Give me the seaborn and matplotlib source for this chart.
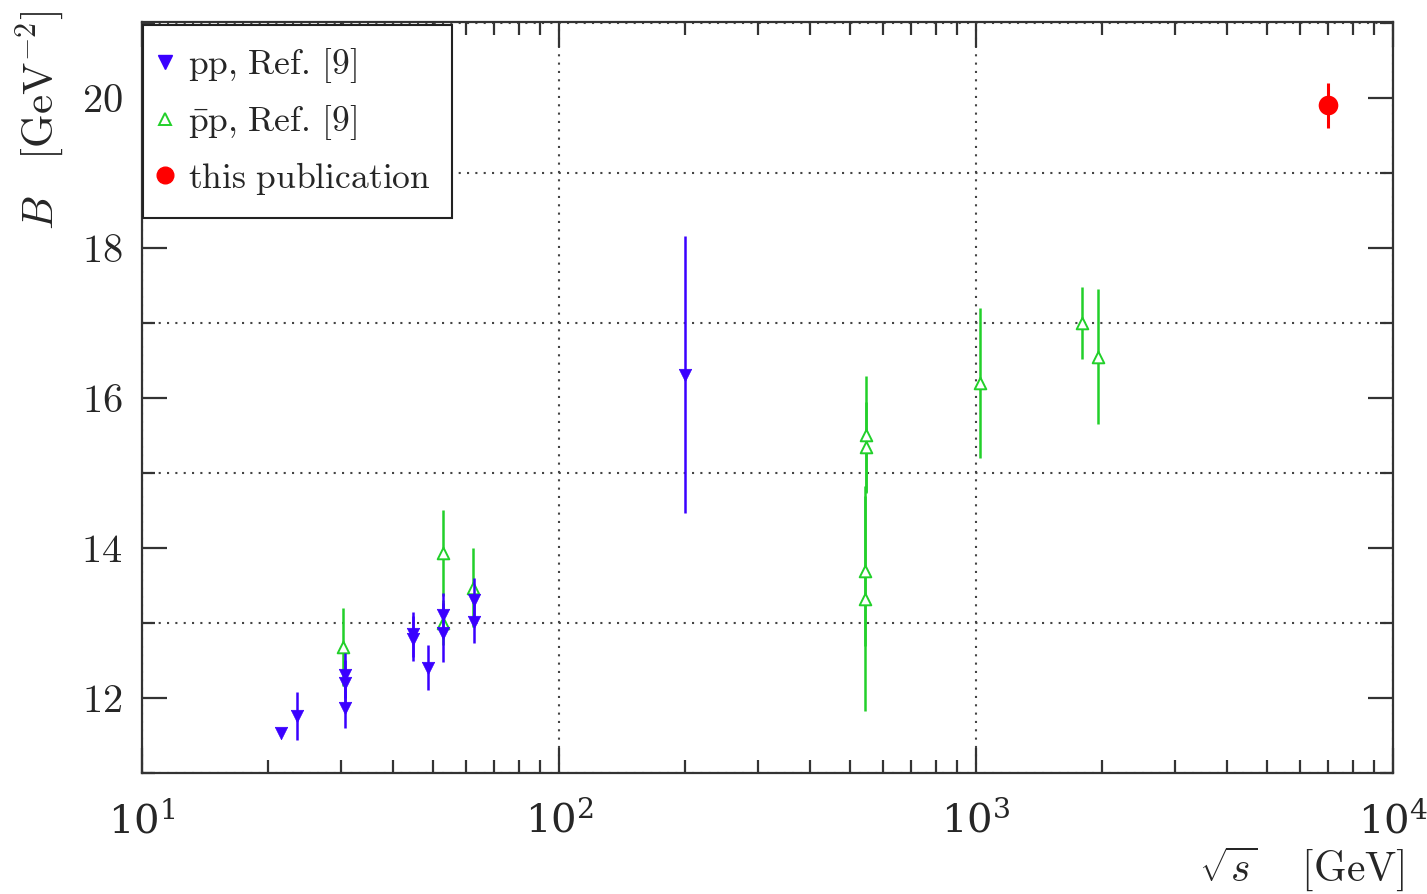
import numpy as np
import pandas as pd
import matplotlib
matplotlib.use("Agg")
import matplotlib.pyplot as plt
from matplotlib.lines import Line2D
from matplotlib.ticker import FixedLocator, FixedFormatter, LogLocator, LogFormatterMathtext, NullFormatter
import seaborn as sns

# pp measurements
pp_sqrt_s = [21.5, 23.5, 30.6, 30.6, 30.6, 44.7, 44.7, 48.4, 52.8, 52.8, 62.5, 62.5, 200.0]
pp_B = [11.53, 11.76, 12.30, 12.20, 11.87, 12.85, 12.79, 12.40, 13.11, 12.87, 13.30, 13.01, 16.31]
pp_err = [0.03, 0.32, 0.30, 0.30, 0.27, 0.30, 0.30, 0.30, 0.29, 0.39, 0.30, 0.28, 1.85]

# pbar-p measurements
ppbar_sqrt_s = [30.4, 52.6, 52.6, 62.3, 546.0, 546.0, 541.0, 541.0, 1020.0, 1800.0, 1960.0]
ppbar_B = [12.68, 13.93, 13.00, 13.47, 15.51, 15.35, 13.69, 13.32, 16.20, 17.00, 16.55]
ppbar_err = [0.52, 0.57, 0.30, 0.53, 0.78, 0.60, 1.00, 1.50, 1.00, 0.48, 0.90]

# new measurement
new_sqrt_s = [7000.0]
new_B = [19.90]
new_err = [0.30]

labels = [r"$\mathrm{pp{,}\ Ref.\,[9]}$",
          r"$\bar{\mathrm{p}}\mathrm{p{,}\ Ref.\,[9]}$",
          r"$\mathrm{this\ publication}$"]
y_major = [12, 14, 16, 18, 20]
y_minor = [11, 13, 15, 17, 19, 21]

c_pp = "#3a00ff"
c_ppbar = "#22d02a"
c_new = "#ff0000"

sns.set_theme(style="ticks")
plt.rcParams["mathtext.fontset"] = "cm"
plt.rcParams["font.family"] = ["DejaVu Serif"]

df_pp = pd.DataFrame({"sqrt_s": pp_sqrt_s, "B": pp_B, "err": pp_err})
df_ppbar = pd.DataFrame({"sqrt_s": ppbar_sqrt_s, "B": ppbar_B, "err": ppbar_err})
df_new = pd.DataFrame({"sqrt_s": new_sqrt_s, "B": new_B, "err": new_err})

fig = plt.figure(figsize=(14.27, 8.94), dpi=100)
ax = fig.add_axes([142 / 1427, 1 - 773 / 894, (1393 - 142) / 1427, (773 - 22) / 894])
ax.set_xscale("log")

# error bars first, then markers on top
ax.errorbar(df_ppbar["sqrt_s"], df_ppbar["B"], yerr=df_ppbar["err"], fmt="none",
            ecolor=c_ppbar, elinewidth=1.8, capsize=0, zorder=2)
sns.scatterplot(data=df_ppbar, x="sqrt_s", y="B", ax=ax, marker="^", s=70,
                facecolor="white", edgecolor=c_ppbar, linewidth=1.4, zorder=3, legend=False)
ax.errorbar(df_pp["sqrt_s"], df_pp["B"], yerr=df_pp["err"], fmt="none",
            ecolor=c_pp, elinewidth=1.8, capsize=0, zorder=4)
sns.scatterplot(data=df_pp, x="sqrt_s", y="B", ax=ax, marker="v", s=80,
                color=c_pp, edgecolor=c_pp, linewidth=0.5, zorder=5, legend=False)
ax.errorbar(df_new["sqrt_s"], df_new["B"], yerr=df_new["err"], fmt="none",
            ecolor=c_new, elinewidth=2.2, capsize=0, zorder=6)
sns.scatterplot(data=df_new, x="sqrt_s", y="B", ax=ax, marker="o", s=200,
                color=c_new, edgecolor=c_new, linewidth=0, zorder=7, legend=False)

ax.set_xlim(10, 1e4)
ax.set_ylim(11, 21.01)

ax.xaxis.set_major_locator(LogLocator(base=10, numticks=10))
ax.xaxis.set_major_formatter(LogFormatterMathtext())
ax.xaxis.set_minor_locator(LogLocator(base=10, subs=np.arange(2, 10), numticks=20))
ax.xaxis.set_minor_formatter(NullFormatter())
ax.yaxis.set_major_locator(FixedLocator(y_major))
ax.yaxis.set_major_formatter(FixedFormatter([rf"${v}$" for v in y_major]))
ax.yaxis.set_minor_locator(FixedLocator(y_minor))

ax.tick_params(which="both", direction="in", top=True, right=True, color="#333333", width=1.6)
ax.tick_params(which="major", length=18, labelsize=29)
ax.tick_params(axis="y", which="major", pad=14)
ax.tick_params(axis="x", which="major", pad=20)
ax.tick_params(which="minor", length=9.5)

ax.grid(False)
ax.grid(True, which="major", axis="x", color="#444444", linestyle=(0, (1, 3)), linewidth=1.5)
ax.grid(True, which="minor", axis="y", color="#444444", linestyle=(0, (1, 3)), linewidth=1.5)
ax.set_axisbelow(True)

for sp in ax.spines.values():
    sp.set_color("#333333")
    sp.set_linewidth(1.6)
    sp.set_visible(True)

ax.set_xlabel(r"$\sqrt{s}\quad\;[\mathrm{GeV}]$", fontsize=30, loc="right")
ax.xaxis.set_label_coords(1.009, -0.095)
ax.set_ylabel(r"$B\quad[\mathrm{GeV}^{-2}]$", fontsize=31, loc="top")
ax.yaxis.set_label_coords(-0.0596, 1.016)

handles = [
    Line2D([], [], linestyle="none", marker="v", markersize=10, color=c_pp),
    Line2D([], [], linestyle="none", marker="^", markersize=8, markerfacecolor="white",
           markeredgecolor=c_ppbar, markeredgewidth=1.4),
    Line2D([], [], linestyle="none", marker="o", markersize=12, color=c_new),
]
leg = ax.legend(handles, labels, loc="upper left", bbox_to_anchor=(0.0008, 0.996),
                borderaxespad=0, fontsize=25.6, frameon=True, fancybox=False,
                framealpha=1, edgecolor="#222222", labelspacing=0.5,
                handlelength=0.05, handletextpad=0.62, borderpad=0.6)
leg.get_frame().set_linewidth(1.5)
leg.set_zorder(10)

fig.savefig("out.png", dpi=100)
